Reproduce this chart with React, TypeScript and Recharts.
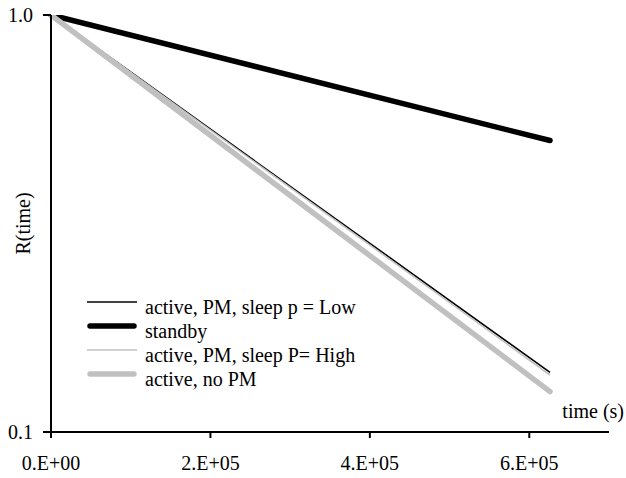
import React from 'react';
import { LineChart, Line, XAxis, YAxis, Legend } from 'recharts';

// time axis (s) and reliability values at those times
const times = [0, 626000];
const activeLow = [1.0, 0.139];
const standby = [1.0, 0.5];
const activeHigh = [1.0, 0.137];
const activeNoPM = [1.0, 0.125];

const xTicks = [0, 200000, 400000, 600000];
const yTicks = [0.1, 1.0];

const seriesNames = [
  'active, PM, sleep p = Low',
  'standby',
  'active, PM, sleep P= High',
  'active, no PM',
];

const series = [
  { key: 'activeLow', name: seriesNames[0], color: '#000000', width: 1.6, cap: 'butt' },
  { key: 'standby', name: seriesNames[1], color: '#000000', width: 5.5, cap: 'round' },
  { key: 'activeHigh', name: seriesNames[2], color: '#c0c0c0', width: 1.6, cap: 'butt' },
  { key: 'activeNoPM', name: seriesNames[3], color: '#c0c0c0', width: 5.5, cap: 'round' },
] as const;

const data = times.map((t, i) => ({
  time: t,
  activeLow: activeLow[i],
  standby: standby[i],
  activeHigh: activeHigh[i],
  activeNoPM: activeNoPM[i],
}));

const FONT = '"Liberation Serif", "Times New Roman", serif';

// Excel style "0.E+00"
const fmtSci = (v: number) => {
  if (v === 0) return '0.E+00';
  const e = Math.floor(Math.log10(v));
  const m = Math.round(v / Math.pow(10, e));
  return `${m}.E+${String(e).padStart(2, '0')}`;
};

const ChartLegend = () => (
  <div style={{ fontFamily: FONT, fontSize: 20, color: '#000' }}>
    {series.map((s) => (
      <div key={s.key} style={{ display: 'flex', height: 24, alignItems: 'flex-start' }}>
        <svg width={58} height={24} style={{ flex: 'none' }}>
          <line
            x1={s.cap === 'round' ? 3 : 0}
            x2={s.cap === 'round' ? 47 : 50}
            y1={7}
            y2={7}
            stroke={s.color}
            strokeWidth={s.width}
            strokeLinecap={s.cap}
          />
        </svg>
        <span style={{ lineHeight: '24px', whiteSpace: 'nowrap' }}>{s.name}</span>
      </div>
    ))}
  </div>
);

export default function App() {
  return (
    <div style={{ position: 'absolute', left: 0, top: 0, background: '#fff' }}>
      <LineChart
        width={626}
        height={478}
        data={data}
        margin={{ top: 15, right: 17, left: 0, bottom: 0 }}
        style={{ fontFamily: FONT }}
      >
        <XAxis
          dataKey="time"
          type="number"
          domain={[0, 700000]}
          ticks={xTicks}
          tickFormatter={fmtSci}
          height={46}
          tickSize={6}
          tickMargin={18}
          axisLine={{ stroke: '#000', strokeWidth: 2 }}
          tickLine={{ stroke: '#000', strokeWidth: 2 }}
          tick={{ fill: '#000', fontSize: 20, fontFamily: FONT }}
          label={(props: any) => {
            const vb = props.viewBox || {};
            return (
              <text
                x={vb.x + vb.width + 15}
                y={vb.y - 14}
                textAnchor="end"
                fill="#000"
                fontSize={20}
                fontFamily={FONT}
              >
                time (s)
              </text>
            );
          }}
        />
        <YAxis
          scale="log"
          type="number"
          domain={[0.1, 1]}
          ticks={yTicks}
          allowDataOverflow
          tickFormatter={(v: number) => v.toFixed(1)}
          width={51}
          tickSize={8}
          tickMargin={10}
          axisLine={{ stroke: '#000', strokeWidth: 2 }}
          tickLine={{ stroke: '#000', strokeWidth: 2 }}
          tick={{ fill: '#000', fontSize: 20, fontFamily: FONT }}
          label={(props: any) => {
            const vb = props.viewBox || {};
            const cy = vb.y + vb.height / 2;
            return (
              <text
                x={23}
                y={cy}
                transform={`rotate(-90 23 ${cy})`}
                textAnchor="middle"
                dominantBaseline="central"
                fill="#000"
                fontSize={20}
                fontFamily={FONT}
              >
                R(time)
              </text>
            );
          }}
        />
        <Legend
          layout="horizontal"
          verticalAlign="middle"
          align="center"
          content={() => <ChartLegend />}
          wrapperStyle={{ left: 87, top: 295, width: 320 }}
        />
        {series.map((s) => (
          <Line
            key={s.key}
            dataKey={s.key}
            name={s.name}
            type="linear"
            stroke={s.color}
            strokeWidth={s.width}
            strokeLinecap={s.cap}
            dot={false}
            activeDot={false}
            isAnimationActive={false}
          />
        ))}
      </LineChart>
    </div>
  );
}
